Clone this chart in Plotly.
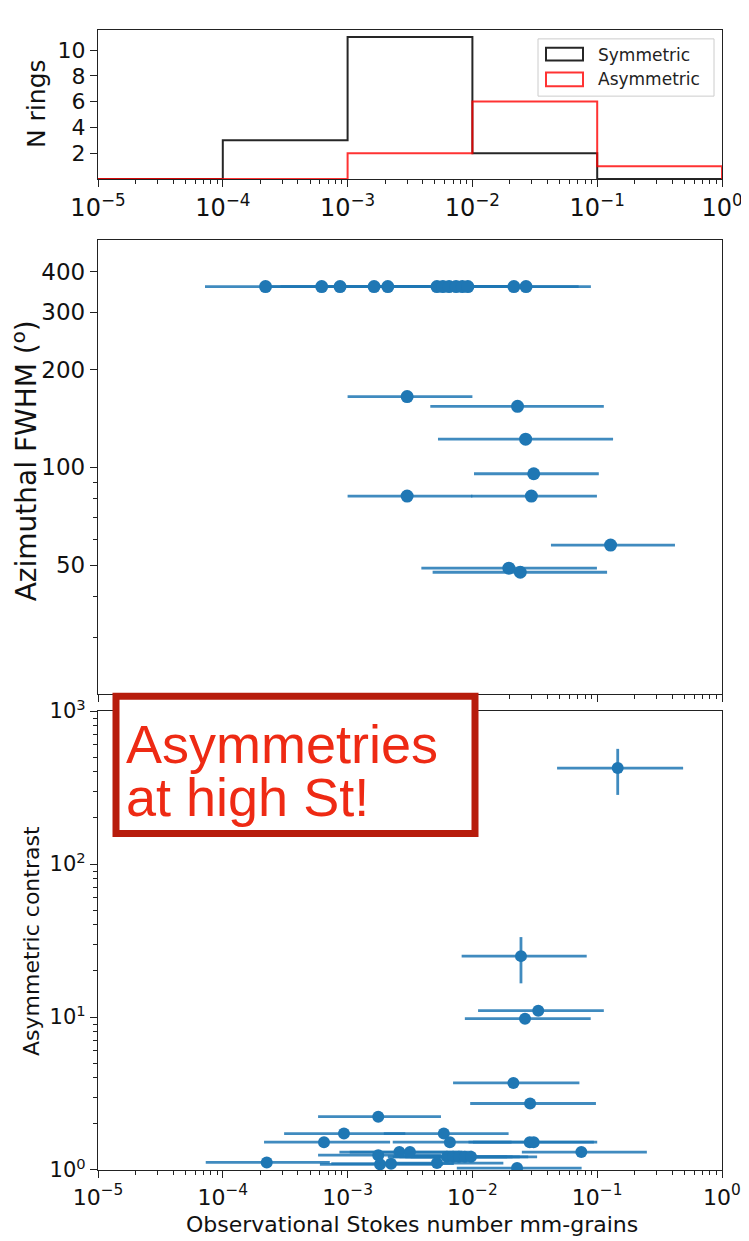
import math
import plotly.graph_objects as go

# ---------------- data ----------------
hist_edges = [1e-5, 1e-4, 1e-3, 1e-2, 1e-1, 1e0]
sym_counts = [0, 3, 11, 2, 0]
asym_counts = [0, 0, 2, 6, 1]

# middle panel: azimuthal FWHM vs Stokes number
fwhm_st = [2.2e-4, 6.2e-4, 8.7e-4, 1.63e-3, 2.1e-3, 5.2e-3, 5.8e-3, 6.5e-3, 7.4e-3, 8.3e-3, 9.2e-3, 0.0215, 0.0269,
           3.0e-3, 0.023, 0.0267, 0.031, 3.0e-3, 0.0297, 0.128, 0.0196, 0.0242]
fwhm_val = [360, 360, 360, 360, 360, 360, 360, 360, 360, 360, 360, 360, 360,
            165, 154, 122, 95.5, 81.5, 81.5, 57.6, 48.9, 47.5]
fwhm_st_lo = [7.2e-5, 2.0e-4, 2.9e-4, 5.4e-4, 7.0e-4, 1.7e-3, 1.9e-3, 2.2e-3, 2.5e-3, 2.8e-3, 3.1e-3, 7.2e-3, 9.0e-3,
              1.0e-3, 4.6e-3, 5.3e-3, 0.0103, 1.0e-3, 9.75e-3, 0.0426, 3.9e-3, 4.8e-3]
fwhm_st_hi = [7.2e-4, 2.0e-3, 2.9e-3, 5.4e-3, 7.0e-3, 0.017, 0.019, 0.021, 0.024, 0.027, 0.030, 0.071, 0.089,
              0.010, 0.113, 0.134, 0.103, 0.010, 0.0995, 0.42, 0.0995, 0.12]

# bottom panel: asymmetric contrast vs Stokes number
contrast_st = [0.146, 0.0245, 0.0337, 0.0264, 0.0213, 0.029,
               1.76e-3, 9.35e-4, 5.9e-3, 6.47e-4, 6.6e-3, 0.0288, 0.031, 2.6e-3, 3.16e-3, 0.0746,
               1.76e-3, 1.82e-3, 2.23e-3, 2.25e-4, 6.25e-3, 7.0e-3, 7.8e-3, 8.7e-3, 9.75e-3, 5.2e-3, 0.0228]
contrast_val = [424, 25.0, 11.0, 9.75, 3.71, 2.72,
                2.23, 1.73, 1.73, 1.52, 1.52, 1.52, 1.52, 1.31, 1.31, 1.31,
                1.25, 1.09, 1.10, 1.12, 1.22, 1.22, 1.22, 1.22, 1.22, 1.11, 1.03]
contrast_st_lo = [0.0477, 8.2e-3, 0.0111, 8.7e-3, 7.0e-3, 9.6e-3,
                  5.8e-4, 3.1e-4, 1.95e-3, 2.14e-4, 2.3e-3, 9.3e-3, 0.0101, 8.6e-4, 1.04e-3, 0.0249,
                  5.8e-4, 6.0e-4, 7.4e-4, 7.3e-5, 2.1e-3, 2.3e-3, 2.6e-3, 2.9e-3, 3.2e-3, 1.7e-3, 7.5e-3]
contrast_st_hi = [0.488, 0.0824, 0.113, 0.0887, 0.072, 0.0977,
                  5.6e-3, 2.9e-3, 0.0195, 2.19e-3, 0.0206, 0.094, 0.10, 8.3e-3, 0.010, 0.25,
                  5.6e-3, 5.8e-3, 7.1e-3, 7.2e-4, 0.019, 0.021, 0.024, 0.028, 0.033, 0.0177, 0.075]
contrast_lo = [283, 16.6, 11.0, 9.75, 3.71, 2.72,
               2.23, 1.73, 1.73, 1.52, 1.52, 1.52, 1.52, 1.31, 1.31, 1.31,
               1.25, 1.09, 1.10, 1.12, 1.22, 1.22, 1.22, 1.22, 1.22, 1.11, 1.03]
contrast_hi = [566, 33.3, 11.0, 9.75, 3.71, 2.72,
               2.23, 1.73, 1.73, 1.52, 1.52, 1.52, 1.52, 1.31, 1.31, 1.31,
               1.25, 1.09, 1.10, 1.12, 1.22, 1.22, 1.22, 1.22, 1.22, 1.11, 1.03]

x_tickvals = [1e-5, 1e-4, 1e-3, 1e-2, 1e-1, 1e0]
x_ticktext = ["10<sup>\u22125</sup>", "10<sup>\u22124</sup>", "10<sup>\u22123</sup>",
              "10<sup>\u22122</sup>", "10<sup>\u22121</sup>", "10<sup>0</sup>"]
fwhm_tickvals = [50, 100, 200, 300, 400]
fwhm_minor = [30, 40, 60, 70, 80, 90]
contrast_tickvals = [1, 10, 100, 1000]
contrast_ticktext = ["10<sup>0</sup>", "10<sup>1</sup>", "10<sup>2</sup>", "10<sup>3</sup>"]

# ---------------- geometry (screen pixels) ----------------
W, H = 749, 1241
OFF = 8  # default page margin of the html body
L, R, T, B = 98, 722, 15, 1170   # desired screen position of the plotting area


def fx(px):
    return (px - L) / (R - L)


def fy(py):
    return (B - py) / (B - T)


BLUE = "#1f77b4"
ERRC = "rgba(31,119,180,0.85)"
AXC = "#222222"
FONT = "DejaVu Sans"

x_minor = [m * 10.0 ** e for e in range(-5, 0) for m in range(2, 10)]
y_minor_c = [m * 10.0 ** e for e in range(0, 3) for m in range(2, 10)]

fig = go.Figure()


def step_xy(edges, counts):
    xs = [edges[0]] + list(edges) + [edges[-1]]
    ys = [0] + list(counts) + [counts[-1], 0]
    return xs, ys


sx, sy = step_xy(hist_edges, sym_counts)
ax_, ay_ = step_xy(hist_edges, asym_counts)
fig.add_trace(go.Scatter(x=sx, y=sy, mode="lines", line=dict(color="rgba(0,0,0,0.85)", width=2, shape="hv"),
                         xaxis="x", yaxis="y", name="Symmetric", hoverinfo="skip"))
fig.add_trace(go.Scatter(x=ax_, y=ay_, mode="lines", line=dict(color="rgba(255,0,0,0.8)", width=2, shape="hv"),
                         xaxis="x", yaxis="y", name="Asymmetric", hoverinfo="skip"))

fig.add_trace(go.Scatter(
    x=fwhm_st, y=fwhm_val, mode="markers", xaxis="x2", yaxis="y2",
    marker=dict(color=BLUE, size=13),
    error_x=dict(type="data", symmetric=False,
                 array=[h - v for h, v in zip(fwhm_st_hi, fwhm_st)],
                 arrayminus=[v - l for l, v in zip(fwhm_st_lo, fwhm_st)],
                 color=ERRC, thickness=2.8, width=0)))

fig.add_trace(go.Scatter(
    x=contrast_st, y=contrast_val, mode="markers", xaxis="x3", yaxis="y3",
    marker=dict(color=BLUE, size=12),
    error_x=dict(type="data", symmetric=False,
                 array=[h - v for h, v in zip(contrast_st_hi, contrast_st)],
                 arrayminus=[v - l for l, v in zip(contrast_st_lo, contrast_st)],
                 color=ERRC, thickness=2.8, width=0),
    error_y=dict(type="data", symmetric=False,
                 array=[h - v for h, v in zip(contrast_hi, contrast_val)],
                 arrayminus=[v - l for l, v in zip(contrast_lo, contrast_val)],
                 color=ERRC, thickness=2.8, width=0)))

common_axis = dict(showline=True, mirror=True, linecolor=AXC, linewidth=1.3, showgrid=False, zeroline=False,
                   ticks="outside", ticklen=7, tickwidth=1.3, tickcolor=AXC)
minor_x = dict(tickmode="array", tickvals=x_minor, ticks="outside", ticklen=4, tickwidth=1, tickcolor=AXC)

fig.update_layout(
    width=W, height=H, paper_bgcolor="white", plot_bgcolor="white", showlegend=False,
    margin=dict(l=L - OFF, r=W - R + OFF, t=T - OFF, b=H - B + OFF, pad=0),
    xaxis=dict(common_axis, type="log", range=[-5, 0], domain=[0, 1], anchor="y",
               tickmode="array", tickvals=x_tickvals, ticktext=x_ticktext,
               tickfont=dict(family=FONT, size=24, color="#111"), minor=minor_x),
    yaxis=dict(common_axis, range=[0, 11.55], domain=[fy(166), fy(15)], anchor="x",
               tickmode="array", tickvals=[2, 4, 6, 8, 10],
               tickfont=dict(family=FONT, size=22, color="#111")),
    xaxis2=dict(common_axis, type="log", range=[-5, 0], domain=[0, 1], anchor="y2",
                tickmode="array", tickvals=x_tickvals, showticklabels=False, minor=minor_x),
    yaxis2=dict(common_axis, type="log", range=[math.log10(20), math.log10(500)], domain=[fy(688), fy(228)],
                anchor="x2", tickmode="array", tickvals=fwhm_tickvals,
                tickfont=dict(family=FONT, size=23, color="#111"),
                minor=dict(tickmode="array", tickvals=fwhm_minor, ticks="outside", ticklen=4, tickwidth=1,
                           tickcolor=AXC)),
    xaxis3=dict(common_axis, type="log", range=[-5, 0], domain=[0, 1], anchor="y3",
                tickmode="array", tickvals=x_tickvals, ticktext=x_ticktext,
                tickfont=dict(family=FONT, size=22, color="#111"), minor=minor_x),
    yaxis3=dict(common_axis, type="log", range=[0, 3], domain=[0, fy(705)], anchor="x3",
                tickmode="array", tickvals=contrast_tickvals, ticktext=contrast_ticktext,
                tickfont=dict(family=FONT, size=21, color="#111"),
                minor=dict(tickmode="array", tickvals=y_minor_c, ticks="outside", ticklen=4, tickwidth=1,
                           tickcolor=AXC)),
)

shapes = []
annotations = []

# legend (manual, with hollow patches)
shapes.append(dict(type="rect", xref="paper", yref="paper", x0=fx(538), x1=fx(714), y0=fy(82), y1=fy(24),
                   line=dict(color="#cccccc", width=1), fillcolor="rgba(255,255,255,0.8)", layer="above"))
shapes.append(dict(type="rect", xref="paper", yref="paper", x0=fx(546), x1=fx(583), y0=fy(46), y1=fy(33),
                   line=dict(color="rgba(0,0,0,0.85)", width=2), fillcolor="rgba(0,0,0,0)", layer="above"))
shapes.append(dict(type="rect", xref="paper", yref="paper", x0=fx(546), x1=fx(583), y0=fy(72), y1=fy(58),
                   line=dict(color="rgba(255,0,0,0.8)", width=2), fillcolor="rgba(0,0,0,0)", layer="above"))
for txt, py in (("Symmetric", 40), ("Asymmetric", 65)):
    annotations.append(dict(text=txt, xref="paper", yref="paper", x=fx(596), y=fy(py), xanchor="left",
                            yanchor="middle", showarrow=False, font=dict(family=FONT, size=17, color="#222")))

# red call-out box
shapes.append(dict(type="rect", xref="paper", yref="paper", x0=fx(116), x1=fx(475), y0=fy(829), y1=fy(690),
                   line=dict(color="#b71c0c", width=7), fillcolor="white", layer="above"))
for txt, py in (("Asymmetries", 738), ("at high St!", 792)):
    annotations.append(dict(text=txt, xref="paper", yref="paper", x=fx(124), y=fy(py), xanchor="left",
                            yanchor="middle", showarrow=False,
                            font=dict(family="Liberation Sans", size=54, color="#ee2a14")))

# axis titles
annotations.append(dict(text="N rings", xref="paper", yref="paper", x=fx(36), y=fy(90), xanchor="center",
                        yanchor="middle", textangle=-90, showarrow=False,
                        font=dict(family=FONT, size=25, color="#111")))
annotations.append(dict(text="Azimuthal FWHM (<sup>o</sup>)", xref="paper", yref="paper", x=fx(25), y=fy(452),
                        xanchor="center", yanchor="middle", textangle=-90, showarrow=False,
                        font=dict(family=FONT, size=28, color="#111")))
annotations.append(dict(text="Asymmetric contrast", xref="paper", yref="paper", x=fx(31), y=fy(938),
                        xanchor="center", yanchor="middle", textangle=-90, showarrow=False,
                        font=dict(family=FONT, size=22, color="#111")))
annotations.append(dict(text="Observational Stokes number mm-grains", xref="paper", yref="paper", x=fx(412),
                        y=fy(1225), xanchor="center", yanchor="middle", showarrow=False,
                        font=dict(family=FONT, size=22, color="#111")))

fig.update_layout(shapes=shapes, annotations=annotations)
fig.write_html("out.html")
